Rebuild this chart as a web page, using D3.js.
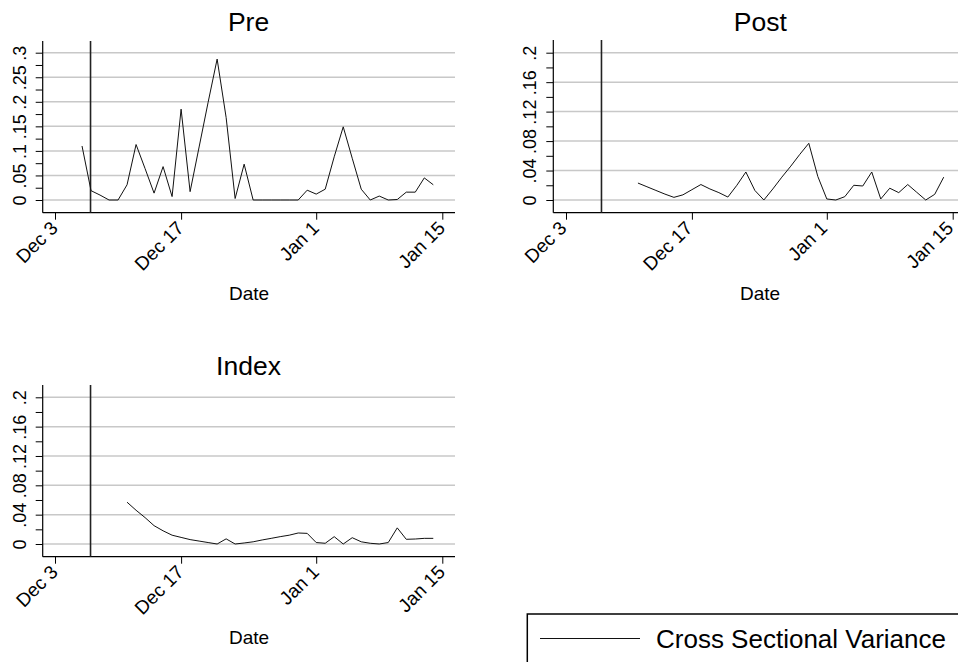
<!DOCTYPE html>
<html>
<head>
<meta charset="utf-8">
<script src="https://cdn.jsdelivr.net/npm/d3@7"></script>
<style>
  html, body { margin: 0; padding: 0; background: #fff; }
  svg { display: block; font-family: "Liberation Sans", Arial, sans-serif; }
</style>
</head>
<body>
<svg id="chart" width="958" height="662"></svg>
<script>
// ---------------- DATA ----------------
const preDates = [
  "2019-12-06","2019-12-07","2019-12-08","2019-12-09","2019-12-10","2019-12-11","2019-12-12","2019-12-13",
  "2019-12-14","2019-12-15","2019-12-16","2019-12-17","2019-12-18","2019-12-19","2019-12-20","2019-12-21",
  "2019-12-22","2019-12-23","2019-12-24","2019-12-25","2019-12-26","2019-12-27","2019-12-28","2019-12-29",
  "2019-12-30","2019-12-31","2020-01-01","2020-01-02","2020-01-03","2020-01-04","2020-01-05","2020-01-06",
  "2020-01-07","2020-01-08","2020-01-09","2020-01-10","2020-01-11","2020-01-12","2020-01-13","2020-01-14"
];
const preValues = [
  0.110, 0.019, 0.010, 0.000, 0.000, 0.031, 0.113, 0.064,
  0.014, 0.068, 0.007, 0.185, 0.017, 0.108, 0.199, 0.287,
  0.168, 0.003, 0.073, 0.000, 0.000, 0.000, 0.000, 0.000,
  0.000, 0.020, 0.012, 0.022, 0.088, 0.149, 0.085, 0.022,
  0.000, 0.008, 0.000, 0.001, 0.016, 0.016, 0.045, 0.031
];
const postDates = [
  "2019-12-11","2019-12-12","2019-12-13","2019-12-14","2019-12-15","2019-12-16","2019-12-17","2019-12-18",
  "2019-12-19","2019-12-20","2019-12-21","2019-12-22","2019-12-23","2019-12-24","2019-12-25","2019-12-26",
  "2019-12-27","2019-12-28","2019-12-29","2019-12-30","2019-12-31","2020-01-01","2020-01-02","2020-01-03",
  "2020-01-04","2020-01-05","2020-01-06","2020-01-07","2020-01-08","2020-01-09","2020-01-10","2020-01-11",
  "2020-01-12","2020-01-13","2020-01-14"
];
const postValues = [
  0.023, 0.018, 0.013, 0.008, 0.0036, 0.007, 0.014, 0.021,
  0.015, 0.010, 0.004, 0.020, 0.038, 0.013, 0.000, 0.015,
  0.031, 0.046, 0.062, 0.077, 0.032, 0.0014, 0.000, 0.0045,
  0.020, 0.019, 0.038, 0.0014, 0.016, 0.010, 0.021, 0.0105,
  0.000, 0.0077, 0.031
];
const indexDates = postDates;
const indexValues = [
  0.057, 0.046, 0.036, 0.025, 0.018, 0.012, 0.009, 0.006,
  0.004, 0.002, 0.000, 0.007, 0.000, 0.0014, 0.003, 0.0055,
  0.0077, 0.010, 0.012, 0.015, 0.0145, 0.002, 0.001, 0.010,
  0.000, 0.0086, 0.003, 0.001, 0.000, 0.002, 0.022, 0.0064,
  0.0068, 0.0077, 0.0077
];
const tickDates = ["2019-12-03","2019-12-17","2020-01-01","2020-01-15"];
const tickLabels = ["Dec 3","Dec 17","Jan 1","Jan 15"];
const eventDate = "2019-12-07";
const preYTicks = [0, 0.05, 0.1, 0.15, 0.2, 0.25, 0.3];
const smallYTicks = [0, 0.04, 0.08, 0.12, 0.16, 0.2];
const legendLabel = "Cross Sectional Variance";
const xTitle = "Date";

// ---------------- LAYOUT ----------------
const parse = d3.utcParse("%Y-%m-%d");
const svg = d3.select("#chart");
const FONT = "'Liberation Sans', Arial, sans-serif";

const panels = [
  { title: "Pre", dates: preDates, values: preValues, yTicks: preYTicks, minor: 0.025,
    left: 42.7, right: 455, top: 41, bottom: 212.7, x0: 55, x1: 442.3, yZero: 200, yTopPix: 52.7,
    titleX: 248.5, titleY: 30.5, dateX: 249, labDx: 3.5 },
  { title: "Post", dates: postDates, values: postValues, yTicks: smallYTicks, minor: 0.02,
    left: 553.3, right: 960, top: 40, bottom: 212.7, x0: 566, x1: 952.7, yZero: 200, yTopPix: 52.7,
    titleX: 760.3, titleY: 30.5, dateX: 760, labDx: 1.2 },
  { title: "Index", dates: indexDates, values: indexValues, yTicks: smallYTicks, minor: 0.02,
    left: 42.7, right: 455, top: 385, bottom: 556.7, x0: 55, x1: 442.3, yZero: 544, yTopPix: 397.3,
    titleX: 248.5, titleY: 374.5, dateX: 249, labDx: 3.5 }
];

const fmt = v => v === 0 ? "0" : d3.format(".2~f")(v).replace(/^0\./, ".");

panels.forEach(p => {
  const g = svg.append("g");
  const x = d3.scaleUtc()
    .domain([parse(tickDates[0]), parse(tickDates[tickDates.length - 1])])
    .range([p.x0, p.x1]);
  const yMax = p.yTicks[p.yTicks.length - 1];
  const y = d3.scaleLinear().domain([0, yMax]).range([p.yZero, p.yTopPix]);

  // gridlines
  g.selectAll("line.grid").data(p.yTicks).join("line")
    .attr("x1", p.left).attr("x2", p.right)
    .attr("y1", d => y(d)).attr("y2", d => y(d))
    .attr("stroke", "#c8c8c8").attr("stroke-width", 1.5);

  // y axis (major + minor ticks)
  const minorTicks = d3.range(0, yMax + 1e-9, p.minor);
  const yAxis = d3.axisLeft(y).tickValues(minorTicks).tickSize(7)
    .tickFormat(d => p.yTicks.some(t => Math.abs(t - d) < 1e-9) ? fmt(d) : "");
  const ya = g.append("g").attr("transform", `translate(${p.left},0)`).call(yAxis);
  ya.select(".domain").remove();
  ya.selectAll(".tick line").attr("stroke", "#000").attr("stroke-width", 1);
  ya.selectAll(".tick text")
    .attr("transform", "rotate(-90)")
    .attr("x", 0).attr("y", -17).attr("dy", 0)
    .attr("text-anchor", "middle")
    .attr("font-family", FONT).attr("font-size", 18).attr("fill", "#000");
  g.append("line").attr("x1", p.left).attr("x2", p.left).attr("y1", p.top).attr("y2", p.bottom)
    .attr("stroke", "#000").attr("stroke-width", 1.2);

  // x axis
  const xAxis = d3.axisBottom(x).tickValues(tickDates.map(parse)).tickSize(7)
    .tickFormat((d, i) => tickLabels[i]);
  const xa = g.append("g").attr("transform", `translate(0,${p.bottom})`).call(xAxis);
  xa.select(".domain").remove();
  xa.selectAll(".tick line").attr("stroke", "#000").attr("stroke-width", 1);
  xa.selectAll(".tick text")
    .attr("transform", `translate(${p.labDx},16.5) rotate(-45)`)
    .attr("x", 0).attr("y", 0).attr("dy", 0)
    .attr("text-anchor", "end")
    .attr("font-family", FONT).attr("font-size", 19).attr("fill", "#000");
  g.append("line").attr("x1", p.left).attr("x2", p.right).attr("y1", p.bottom).attr("y2", p.bottom)
    .attr("stroke", "#000").attr("stroke-width", 1.2);

  // event line
  g.append("line")
    .attr("x1", x(parse(eventDate)) - 0.5).attr("x2", x(parse(eventDate)) - 0.5)
    .attr("y1", p.top).attr("y2", p.bottom)
    .attr("stroke", "#222").attr("stroke-width", 1.6);

  // series line
  const pts = p.dates.map((d, i) => ({ d: parse(d), v: p.values[i] }));
  g.append("path").datum(pts)
    .attr("fill", "none").attr("stroke", "#111").attr("stroke-width", 1)
    .attr("d", d3.line().x(d => x(d.d)).y(d => y(d.v)));

  // title
  g.append("text").attr("x", p.titleX).attr("y", p.titleY).attr("text-anchor", "middle")
    .attr("font-family", FONT).attr("font-size", 26.5).attr("fill", "#000").text(p.title);
  // x title
  g.append("text").attr("x", p.dateX)
    .attr("y", p.bottom + 87.5).attr("text-anchor", "middle")
    .attr("font-family", FONT).attr("font-size", 19).attr("fill", "#000").text(xTitle);
});

// ---------------- LEGEND ----------------
const lg = svg.append("g");
lg.append("rect").attr("x", 527.3).attr("y", 614).attr("width", 500).attr("height", 100)
  .attr("fill", "#fff").attr("stroke", "#000").attr("stroke-width", 1.5);
lg.append("line").attr("x1", 540).attr("x2", 640).attr("y1", 638.5).attr("y2", 638.5)
  .attr("stroke", "#111").attr("stroke-width", 1.2);
lg.append("text").attr("x", 656).attr("y", 648)
  .attr("font-family", FONT).attr("font-size", 26).attr("fill", "#000").text(legendLabel);
</script>
</body>
</html>
